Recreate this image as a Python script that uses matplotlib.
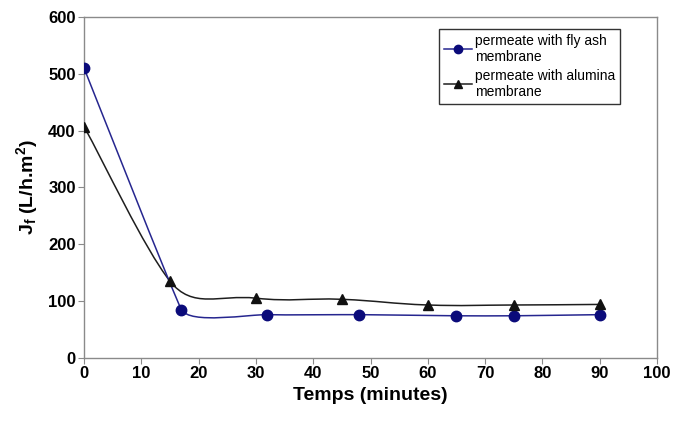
import numpy as np
import matplotlib
matplotlib.use("Agg")
import matplotlib.pyplot as plt
from matplotlib.path import Path
from matplotlib.patches import PathPatch
from matplotlib.lines import Line2D

plt.rcParams["font.family"] = ["Liberation Sans", "DejaVu Sans"]
plt.rcParams["mathtext.fontset"] = "custom"
plt.rcParams["mathtext.rm"] = "Liberation Sans:bold"
plt.rcParams["mathtext.bf"] = "Liberation Sans:bold"
plt.rcParams["mathtext.it"] = "Liberation Sans:bold"

# data
t_ash = [0, 17, 32, 48, 65, 75, 90]
j_ash = [510, 85, 76, 76, 74, 74, 76]
t_alu = [0, 15, 30, 45, 60, 75, 90]
j_alu = [407, 135, 105, 103, 93, 93, 94]
lab_ash = "permeate with fly ash\nmembrane"
lab_alu = "permeate with alumina\nmembrane"

C_ASH = "#26268f"; C_ALU = "#1e1e1e"

fig = plt.figure(figsize=(6.83, 4.21), dpi=100)
ax = fig.add_axes([0.123, 0.150, 0.839, 0.810])
ax.set_xlim(0, 100); ax.set_ylim(0, 600)


def smooth_path(x, y, k=0.2, cap=1.0):
    """Excel-like smoothed line: cubic Bezier; tangent leans to the longer neighbouring segment."""
    sx, sy = 100.0 / (0.84 * 6.83), 600.0 / (0.81 * 4.21)   # data units per inch
    P = np.column_stack([np.asarray(x, float) / sx, np.asarray(y, float) / sy])
    n = len(P)
    unit = lambda v: v / max(np.hypot(*v), 1e-9)

    def tangent(i):
        a = P[i] - P[max(i - 1, 0)]; b = P[min(i + 1, n - 1)] - P[i]
        return unit(a * np.hypot(*a) + b * np.hypot(*b))

    verts = [P[0]]; codes = [Path.MOVETO]
    for i in range(n - 1):
        p1 = P[i]; p2 = P[i + 1]
        L = k * min(np.hypot(*(p2 - p1)), cap)
        c1 = p1 + tangent(i) * L
        c2 = p2 - tangent(i + 1) * L
        verts += [c1, c2, p2]; codes += [Path.CURVE4] * 3
    V = np.array(verts) * [sx, sy]
    return Path(V, codes)


for t, j, c, k in [(t_alu, j_alu, C_ALU, 0.42), (t_ash, j_ash, C_ASH, 0.2)]:
    ax.add_patch(PathPatch(smooth_path(t, j, k), facecolor="none", edgecolor=c, lw=1.1,
                           transform=ax.transData, zorder=2))

ax.plot(t_ash, j_ash, ls="none", marker="o", ms=7.5, color="#0b0b7a", zorder=3)
ax.plot(t_alu, j_alu, ls="none", marker="^", ms=6.5, color="#111111", zorder=3)

for s in ax.spines.values():
    s.set_color("#8a8a8a"); s.set_linewidth(1.0)
ax.set_xticks(range(0, 101, 10)); ax.set_yticks(range(0, 601, 100))
ax.tick_params(direction="out", length=4, color="#8a8a8a", labelsize=12, pad=2)
for lb in ax.get_xticklabels() + ax.get_yticklabels():
    lb.set_fontweight("bold")
ax.set_xlabel("Temps (minutes)", fontsize=14, fontweight="bold", labelpad=4)
ax.set_ylabel(r"J$_\mathbf{f}$ (L/h.m$^\mathbf{2}$)", fontsize=14, fontweight="bold", labelpad=6)

handles = [Line2D([], [], color=C_ASH, lw=1.1, marker="o", ms=6, mfc="#0b0b7a", mec="#0b0b7a"),
           Line2D([], [], color=C_ALU, lw=1.1, marker="^", ms=6, mfc="#111111", mec="#111111")]
leg = ax.legend(handles, [lab_ash, lab_alu], loc="upper left", bbox_to_anchor=(0.620, 0.965),
                fontsize=10, frameon=True, fancybox=False, handlelength=2.0, handletextpad=0.2,
                borderpad=0.35, labelspacing=0.35, borderaxespad=0)
leg.get_frame().set_edgecolor("black"); leg.get_frame().set_linewidth(1.0)

fig.savefig("out.png", dpi=100)
